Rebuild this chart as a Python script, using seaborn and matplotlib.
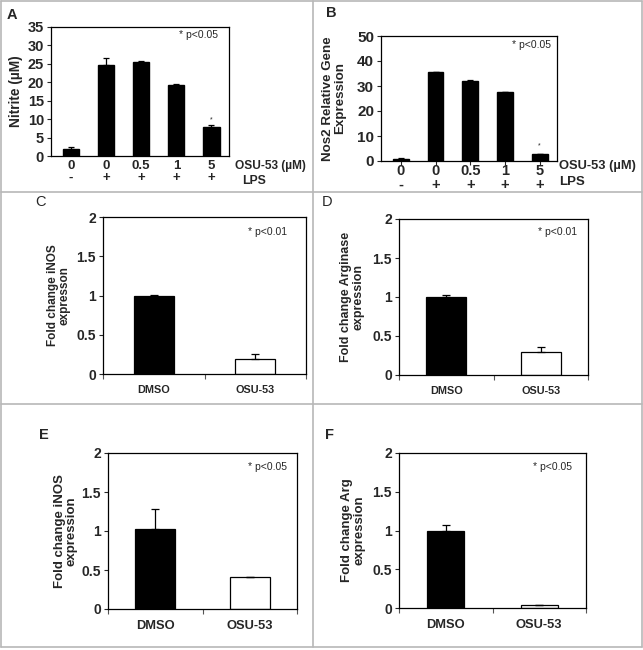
import numpy as np
import pandas as pd
import matplotlib
matplotlib.use("Agg")
import matplotlib.pyplot as plt
from matplotlib.lines import Line2D
import seaborn as sns

# panel A / B data (OSU-53 dose, LPS)
doses = ["0", "0", "0.5", "1", "5"]
lps = ["-", "+", "+", "+", "+"]
conditions = ["ctrl", "lps0", "lps0.5", "lps1", "lps5"]
nitrite = [2.0, 24.6, 25.5, 19.3, 8.0]
nitrite_err = [0.4, 1.9, 0.2, 0.3, 0.3]
nos2 = [1.0, 35.7, 32.1, 27.6, 2.7]
nos2_err = [0.1, 0.0, 0.3, 0.0, 0.3]

# panels C-F
groups = ["DMSO", "OSU-53"]
inos_c = [1.0, 0.19]
inos_c_err = [0.01, 0.065]
arg_d = [1.0, 0.29]
arg_d_err = [0.03, 0.07]
inos_e = [1.03, 0.41]
inos_e_err = [0.25, 0.0]
arg_f = [1.0, 0.04]
arg_f_err = [0.07, 0.0]

sns.set_style("ticks")
plt.rcParams["font.family"] = ["Liberation Sans", "DejaVu Sans"]
plt.rcParams["font.weight"] = "bold"
plt.rcParams["axes.linewidth"] = 0.9

W, H = 643, 650
fig = plt.figure(figsize=(W / 100, H / 100), dpi=100)


def px_axes(l, t, r, b):
    return fig.add_axes([l / W, 1 - b / H, (r - l) / W, (b - t) / H])


def style_box(ax):
    for s in ax.spines.values():
        s.set_visible(True)
        s.set_color("black")
    ax.tick_params(axis="y", direction="out", length=3, width=0.8, pad=2)


def dose_panel(ax, vals, errs, ylim, step, ylabel, lab_x, lab_fs, star_y, ptxt_xy,
               fs_y, fs_x):
    df = pd.DataFrame({"cond": conditions, "val": vals})
    sns.barplot(data=df, x="cond", y="val", color="black", edgecolor="black",
                width=0.46, saturation=1, ax=ax)
    x = np.arange(len(vals))
    ax.errorbar(x, vals, yerr=[np.zeros(len(vals)), errs], fmt="none",
                ecolor="black", elinewidth=0.9, capsize=2.5, capthick=0.9)
    ax.set_xlim(-0.57, len(vals) - 0.5)
    ax.set_ylim(*ylim)
    ticks = np.arange(ylim[0], ylim[1] + 0.1, step)
    ax.set_yticks(ticks)
    ax.set_yticklabels([f"{v:g}" for v in ticks], fontsize=fs_y, fontweight="bold")
    ax.set_xticks(x)
    ax.set_xticklabels([f"{d}\n{l}" for d, l in zip(doses, lps)],
                       fontsize=fs_x, fontweight="bold", linespacing=1.0)
    ax.set_xlabel("")
    ax.set_ylabel(ylabel, fontsize=lab_fs, fontweight="bold", linespacing=1.0)
    ax.yaxis.set_label_coords(lab_x, 0.5)
    style_box(ax)
    ax.text(4, star_y, "*", ha="center", va="center", fontsize=5, fontweight="normal")
    ax.text(ptxt_xy[0], ptxt_xy[1], "* p<0.05", transform=ax.transAxes,
            ha="right", va="center", fontsize=7.5, fontweight="normal")


# A
axA = px_axes(51, 27, 229, 156)
dose_panel(axA, nitrite, nitrite_err, (0, 35), 5, "Nitrite (\u00b5M)", -0.16, 9.9,
           9.9, (0.94, 0.94), 10.5, 9.5)
axA.tick_params(axis="x", length=0, pad=3)
fig.text(235 / W, 1 - 166 / H, "OSU-53 (\u00b5M)", ha="left", va="center",
         fontsize=8.6, fontweight="bold")
fig.text(242 / W, 1 - 181 / H, "LPS", ha="left", va="center",
         fontsize=8.8, fontweight="bold")

# B
axB = px_axes(381, 36, 557, 161)
dose_panel(axB, nos2, nos2_err, (0, 50), 10, "Nos2 Relative Gene\nExpression", -0.2, 9.6,
           6.2, (0.966, 0.93), 11, 10.5)
axB.tick_params(axis="x", direction="out", length=3, width=0.8, pad=-1)
fig.text(559 / W, 1 - 166 / H, "OSU-53 (\u00b5M)", ha="left", va="center",
         fontsize=9.3, fontweight="bold")
fig.text(559 / W, 1 - 182 / H, "LPS", ha="left", va="center",
         fontsize=9.5, fontweight="bold")


def fold_panel(ax, vals, errs, ylabel, lab_x, ptxt, ptxt_xy, fs_x, fs_lab, width):
    df = pd.DataFrame({"grp": groups, "val": vals})
    sns.barplot(data=df, x="grp", y="val", hue="grp", palette=["black", "white"],
                edgecolor="black", linewidth=0.9, width=width, saturation=1,
                legend=False, ax=ax)
    x = np.arange(len(vals))
    ax.errorbar(x, vals, yerr=[np.zeros(len(vals)), errs], fmt="none",
                ecolor="black", elinewidth=0.9, capsize=3, capthick=0.9)
    ax.set_xlim(-0.5, 1.5)
    ax.set_ylim(0, 2)
    ax.set_yticks([0, 0.5, 1, 1.5, 2])
    ax.set_yticklabels(["0", "0.5", "1", "1.5", "2"], fontsize=10, fontweight="bold")
    ax.set_xticks(x)
    ax.set_xticklabels(groups, fontsize=fs_x, fontweight="bold")
    ax.set_xticks([-0.5, 0.5, 1.5], minor=True)
    ax.tick_params(axis="x", which="major", length=0, pad=8)
    ax.tick_params(axis="x", which="minor", direction="out", length=3.5, width=0.8,
                   color="#555555")
    ax.set_xlabel("")
    ax.set_ylabel(ylabel, fontsize=fs_lab, fontweight="bold", linespacing=1.0)
    ax.yaxis.set_label_coords(lab_x, 0.5)
    style_box(ax)
    ax.text(ptxt_xy[0], ptxt_xy[1], ptxt, transform=ax.transAxes,
            ha="right", va="center", fontsize=7.5, fontweight="normal")


axC = px_axes(103, 217, 306, 374)
fold_panel(axC, inos_c, inos_c_err, "Fold change iNOS\nexpresson", -0.158,
           "* p<0.01", (0.906, 0.905), 7.8, 8.5, 0.39)
axD = px_axes(399, 219, 588, 375)
fold_panel(axD, arg_d, arg_d_err, "Fold change Arginase\nexpression", -0.185,
           "* p<0.01", (0.94, 0.917), 7.8, 9, 0.42)
axE = px_axes(108, 453, 297, 609)
fold_panel(axE, inos_e, inos_e_err, "Fold change iNOS\nexpression", -0.159,
           "* p<0.05", (0.947, 0.91), 9.3, 9.5, 0.42)
axF = px_axes(399, 453, 586, 608)
fold_panel(axF, arg_f, arg_f_err, "Fold change Arg\nexpression", -0.18,
           "* p<0.05", (0.925, 0.91), 9.3, 9.5, 0.40)

# panel letters
letters = [("A", 12, 15, "bold"), ("B", 331, 13, "bold"), ("C", 40, 202, "normal"),
           ("D", 327, 202, "normal"), ("E", 44, 435, "bold"), ("F", 329, 435, "bold")]
for t, lx, ly, w in letters:
    fig.text(lx / W, 1 - ly / H, t, ha="center", va="center", fontsize=10.5, fontweight=w)

# panel grid lines
grid_col = "#b8b8b8"
for x0, y0, x1, y1 in [(1, 1, 642, 1), (1, 647, 642, 647), (1, 1, 1, 647),
                       (642, 1, 642, 647), (313, 1, 313, 647),
                       (1, 192, 642, 192), (1, 404, 642, 404)]:
    fig.add_artist(Line2D([x0 / W, x1 / W], [1 - y0 / H, 1 - y1 / H],
                          color=grid_col, linewidth=1.2))

fig.savefig("out.png", dpi=100)
